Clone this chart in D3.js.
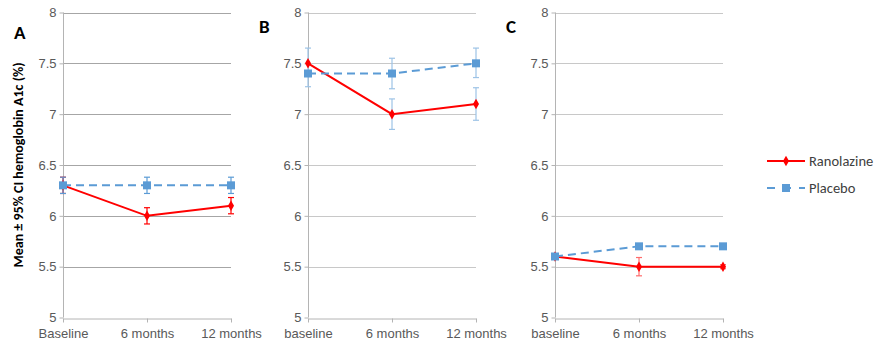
<!DOCTYPE html>
<html>
<head>
<meta charset="utf-8">
<script src="https://cdn.jsdelivr.net/npm/d3@7"></script>
<style>
  body { margin: 0; background: #fff; }
  svg { display: block; font-family: Carlito, "Liberation Sans", "Open Sans", sans-serif; }
</style>
</head>
<body>
<div id="chart"></div>
<script>
// data
var categoriesA = ["Baseline", "6 months", "12 months"];
var categoriesBC = ["baseline", "6 months", "12 months"];
var yTicks = [5, 5.5, 6, 6.5, 7, 7.5, 8];
var seriesNames = ["Ranolazine", "Placebo"];

var ranolazineA = [6.3, 6.0, 6.1];
var ranolazineA_lo = [6.22, 5.92, 6.02];
var ranolazineA_hi = [6.38, 6.08, 6.18];
var placeboA = [6.3, 6.3, 6.3];
var placeboA_lo = [6.22, 6.22, 6.22];
var placeboA_hi = [6.38, 6.38, 6.38];

var ranolazineB = [7.5, 7.0, 7.1];
var ranolazineB_lo = [7.5, 6.85, 6.94];
var ranolazineB_hi = [7.5, 7.15, 7.26];
var placeboB = [7.4, 7.4, 7.5];
var placeboB_lo = [7.27, 7.25, 7.36];
var placeboB_hi = [7.65, 7.55, 7.65];

var ranolazineC = [5.6, 5.5, 5.5];
var ranolazineC_lo = [5.58, 5.41, 5.48];
var ranolazineC_hi = [5.62, 5.59, 5.52];
var placeboC = [5.6, 5.7, 5.7];
var placeboC_lo = [5.59, 5.69, 5.69];
var placeboC_hi = [5.61, 5.71, 5.71];

var svgWidth = 875;
var svgHeight = 349;

var red = "#ff0000";
var blue = "#5b9bd5";
var lightBlue = "#9dc3e6";
var lightRed = "#ff6b6b";

var panels = [
  { letter: "A", x0: 63, x1: 231, cats: categoriesA, grid: "#a6a6a6", lx: 14, ly: 39,
    ran: ranolazineA, ranLo: ranolazineA_lo, ranHi: ranolazineA_hi, ranErr: red,
    pla: placeboA, plaLo: placeboA_lo, plaHi: placeboA_hi, plaErr: blue },
  { letter: "B", x0: 308, x1: 476, cats: categoriesBC, grid: "#c8c8c8", lx: 259, ly: 33,
    ran: ranolazineB, ranLo: ranolazineB_lo, ranHi: ranolazineB_hi, ranErr: lightBlue,
    pla: placeboB, plaLo: placeboB_lo, plaHi: placeboB_hi, plaErr: lightBlue },
  { letter: "C", x0: 555, x1: 723, cats: categoriesBC, grid: "#c8c8c8", lx: 506, ly: 33,
    ran: ranolazineC, ranLo: ranolazineC_lo, ranHi: ranolazineC_hi, ranErr: lightRed,
    pla: placeboC, plaLo: placeboC_lo, plaHi: placeboC_hi, plaErr: lightBlue }
];

var svg = d3.select("#chart")
  .append("svg")
  .attr("width", svgWidth)
  .attr("height", svgHeight);

var yScale = d3.scaleLinear()
  .domain([5, 8])
  .range([317.5, 12.5]);

panels.forEach(function(p) {
  var g = svg.append("g");

  var xScale = d3.scalePoint()
    .domain(p.cats)
    .range([p.x0, p.x1]);

  // gridlines
  g.selectAll(".grid")
    .data(yTicks.slice(1))
    .enter()
    .append("line")
    .attr("x1", p.x0)
    .attr("x2", p.x1)
    .attr("y1", function(d) { return Math.round(yScale(d)) + 0.5; })
    .attr("y2", function(d) { return Math.round(yScale(d)) + 0.5; })
    .attr("stroke", p.grid)
    .attr("stroke-width", 1);

  // y axis
  var leftAxis = d3.axisLeft(yScale)
    .tickValues(yTicks)
    .tickFormat(d3.format("~g"))
    .tickSize(4)
    .tickPadding(3);
  var ya = g.append("g")
    .attr("transform", "translate(" + (p.x0 + 0.5) + ",0)")
    .call(leftAxis);
  ya.select(".domain").attr("stroke", "#b4b4b4").attr("d", "M0," + yScale(8) + "V" + yScale(5));
  ya.selectAll(".tick line").attr("stroke", "#b4b4b4");
  ya.selectAll("text").attr("fill", "#595959").style("font-size", "13px");

  // x axis
  var bottomAxis = d3.axisBottom(xScale)
    .tickSize(4)
    .tickSizeOuter(0)
    .tickPadding(6);
  var xa = g.append("g")
    .attr("transform", "translate(0," + (Math.round(yScale(5)) + 0.5) + ")")
    .call(bottomAxis);
  xa.select(".domain").attr("stroke", "#b4b4b4");
  xa.selectAll(".tick line").attr("stroke", "#b4b4b4");
  xa.selectAll("text").attr("fill", "#595959").style("font-size", "13px");

  // error bars
  function errorBars(vals, lo, hi, color) {
    var eb = g.append("g").attr("stroke", color).attr("stroke-width", 1.2);
    p.cats.forEach(function(c, i) {
      if (hi[i] - lo[i] < 0.005) return;
      var x = xScale(c);
      eb.append("line").attr("x1", x).attr("x2", x).attr("y1", yScale(lo[i])).attr("y2", yScale(hi[i]));
      eb.append("line").attr("x1", x - 3).attr("x2", x + 3).attr("y1", yScale(lo[i])).attr("y2", yScale(lo[i]));
      eb.append("line").attr("x1", x - 3).attr("x2", x + 3).attr("y1", yScale(hi[i])).attr("y2", yScale(hi[i]));
    });
  }
  errorBars(p.ran, p.ranLo, p.ranHi, p.ranErr);
  errorBars(p.pla, p.plaLo, p.plaHi, p.plaErr);

  var line = d3.line()
    .x(function(d, i) { return xScale(p.cats[i]); })
    .y(function(d) { return yScale(d); });

  // ranolazine
  g.append("path")
    .datum(p.ran)
    .attr("d", line)
    .attr("fill", "none")
    .attr("stroke", red)
    .attr("stroke-width", 2);
  g.selectAll(".dm")
    .data(p.ran)
    .enter()
    .append("path")
    .attr("d", d3.symbol().type(d3.symbolDiamond).size(32))
    .attr("transform", function(d, i) { return "translate(" + xScale(p.cats[i]) + "," + yScale(d) + ")"; })
    .attr("fill", red);

  // placebo
  g.append("path")
    .datum(p.pla)
    .attr("d", line)
    .attr("fill", "none")
    .attr("stroke", blue)
    .attr("stroke-width", 2)
    .attr("stroke-dasharray", "8,5");
  g.selectAll(".sq")
    .data(p.pla)
    .enter()
    .append("rect")
    .attr("x", function(d, i) { return xScale(p.cats[i]) - 4; })
    .attr("y", function(d) { return yScale(d) - 4; })
    .attr("width", 8)
    .attr("height", 8)
    .attr("fill", blue);

  // panel letter
  svg.append("text")
    .attr("x", p.lx)
    .attr("y", p.ly)
    .style("font-size", "19px")
    .style("font-weight", "bold")
    .attr("fill", "#000")
    .text(p.letter);
});

// y axis title
svg.append("text")
  .attr("transform", "translate(23," + 165 + ") rotate(-90)")
  .attr("text-anchor", "middle")
  .style("font-size", "14px")
  .style("font-weight", "bold")
  .attr("fill", "#000")
  .text("Mean \u00b1 95% CI hemoglobin A1c (%)");

// legend
var legend = svg.append("g");
var legendY = [161, 188];
legend.append("line")
  .attr("x1", 767).attr("x2", 805).attr("y1", legendY[0]).attr("y2", legendY[0])
  .attr("stroke", red).attr("stroke-width", 2);
legend.append("path")
  .attr("d", d3.symbol().type(d3.symbolDiamond).size(32))
  .attr("transform", "translate(786," + legendY[0] + ")")
  .attr("fill", red);
legend.append("line")
  .attr("x1", 767).attr("x2", 805).attr("y1", legendY[1]).attr("y2", legendY[1])
  .attr("stroke", blue).attr("stroke-width", 2).attr("stroke-dasharray", "8,8");
legend.append("rect")
  .attr("x", 782).attr("y", legendY[1] - 4).attr("width", 8).attr("height", 8)
  .attr("fill", blue);
legend.selectAll(".lt")
  .data(seriesNames)
  .enter()
  .append("text")
  .attr("x", 809)
  .attr("y", function(d, i) { return legendY[i] + 5; })
  .attr("fill", "#404040")
  .style("font-size", "14.5px")
  .text(function(d) { return d; });
</script>
</body>
</html>
